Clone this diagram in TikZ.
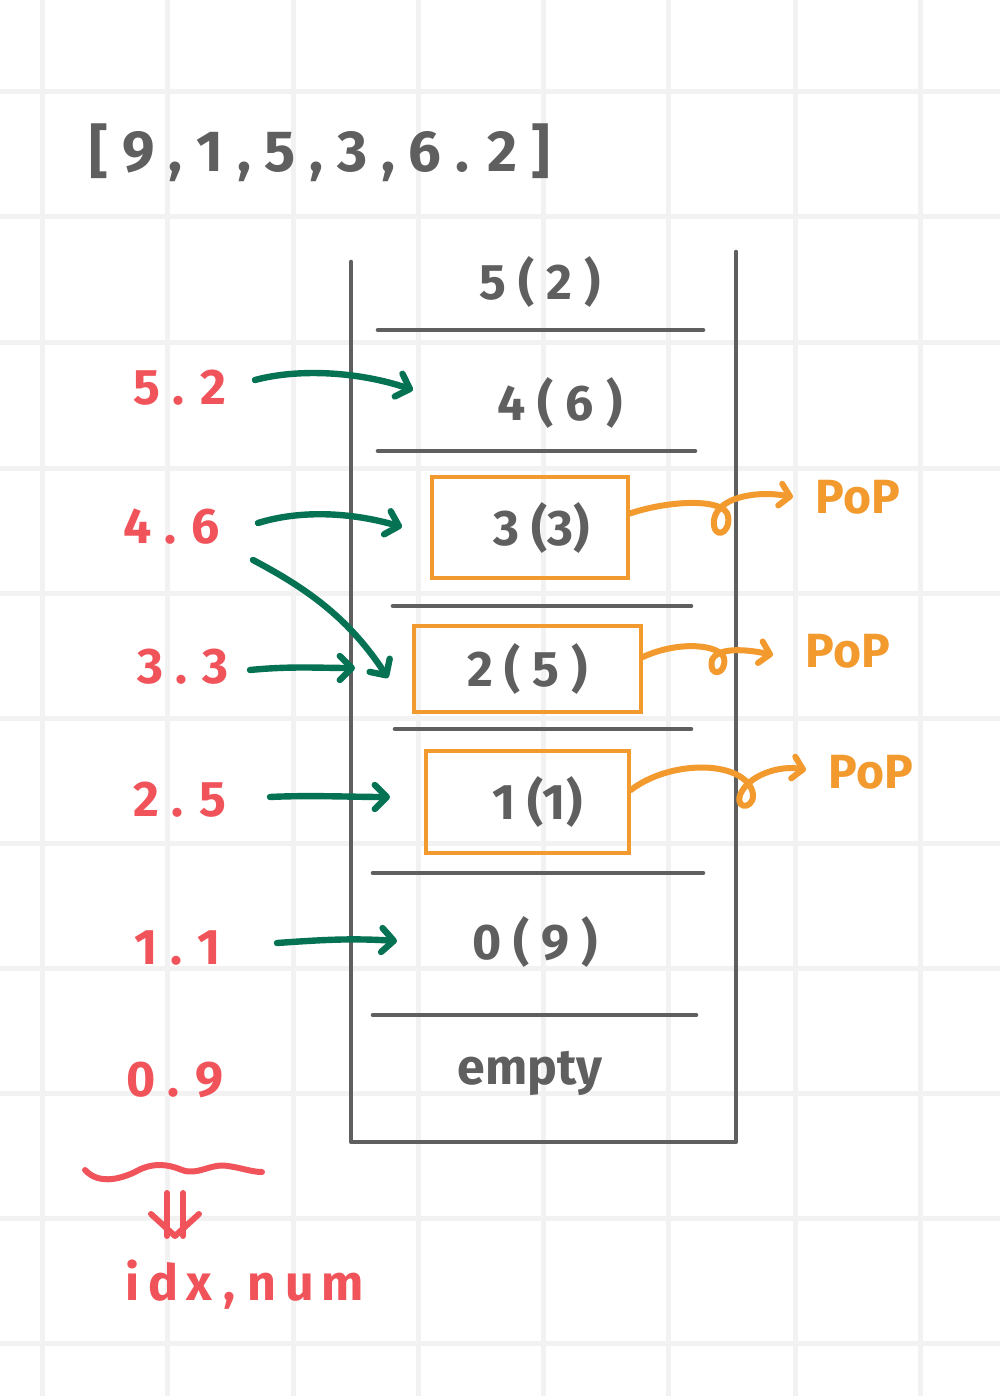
\documentclass[tikz,border=0pt]{standalone}
\usepackage{fontspec}
\setmainfont{Fira Sans}
\usetikzlibrary{arrows.meta}
\definecolor{ink}{HTML}{5F5F5F}
\definecolor{gridc}{HTML}{F2F2F2}
\definecolor{redc}{HTML}{F0545A}
\definecolor{grn}{HTML}{067254}
\definecolor{orc}{HTML}{F29A2E}
\tikzset{
  gridline/.style={draw=gridc, line width=2.5pt},
  wall/.style={draw=ink, line width=2.3pt, line cap=round, line join=round},
  divider/.style={draw=ink, line width=2.3pt, line cap=round},
  stacktxt/.style={text=ink, font=\fontsize{25}{28}\selectfont\bfseries, inner sep=0pt},
  toptxt/.style={text=ink, font=\fontsize{29}{32}\selectfont\bfseries, inner sep=0pt},
  redtxt/.style={text=redc, font=\fontsize{25}{28}\selectfont\bfseries, inner sep=0pt},
  poptxt/.style={text=orc, font=\fontsize{24}{28}\selectfont\bfseries, inner sep=0pt},
  popbox/.style={draw=orc, line width=1.8pt, text=ink, font=\fontsize{25}{28}\selectfont\bfseries, inner sep=0pt},
  garrow/.style={draw=grn, line width=3.2pt, line cap=round, -{Straight Barb[length=6pt,width=12pt,round]}},
  oarrow/.style={draw=orc, line width=3pt, line cap=round, line join=round, -{Straight Barb[length=5pt,width=11pt,round]}},
  rline/.style={draw=redc, line width=3pt, line cap=round, line join=round}
}
\begin{document}
\begin{tikzpicture}[x=0.5pt,y=-0.5pt]
\useasboundingbox (0,0) rectangle (1000,1396);
\fill[white] (0,0) rectangle (1000,1396);
% grid
\foreach \gx in {42,167,293,418,543,668,795,920} \draw[gridline] (\gx,0) -- (\gx,1396);
\foreach \gy in {92,217,342,468,593,718,843,968,1093,1218,1343} \draw[gridline] (0,\gy) -- (1000,\gy);

% top list
\node[toptxt] (list) at (320,153) {[ 9 , 1 , 5 , 3 , 6 . 2 ]};

% stack walls
\draw[wall] (351,262) -- (351,1142) -- (736,1142) -- (736,252);
\draw[divider] (378,330) -- (703,330);
\draw[divider] (378,451) -- (695,451);
\draw[divider] (393,606) -- (691,606);
\draw[divider] (395,729) -- (691,729);
\draw[divider] (373,873) -- (703,873);
\draw[divider] (373,1015) -- (696,1015);

% stack entries
\node[stacktxt] (r5) at (540,282) {5 ( 2 )};
\node[stacktxt] (r4) at (560,403) {4 ( 6 )};
\node[popbox, minimum width=98pt, minimum height=50.5pt] (b3) at (530,527.5) {\hspace{12pt}3 (3)};
\node[popbox, minimum width=113.5pt, minimum height=43pt] (b2) at (527.5,669) {2 ( 5 )};
\node[popbox, minimum width=101.5pt, minimum height=51pt] (b1) at (527.5,802) {\hspace{10pt}1 (1)};
\node[stacktxt] (r0) at (535,942) {0 ( 9 )};
\node[stacktxt] (re) at (530,1073) {empty};

% red labels
\node[redtxt] (l52) at (180,388) {5 . 2};
\node[redtxt] (l46) at (172,527) {4 . 6};
\node[redtxt] (l33) at (183,667) {3 . 3};
\node[redtxt] (l25) at (180,800) {2 . 5};
\node[redtxt] (l11) at (178,948) {1 . 1};
\node[redtxt] (l09) at (175,1080) {0 . 9};
\node[redtxt] (idx) at (245,1285) {i\,d\,x , n\,u\,m};

% arrow end coordinates
\coordinate (s52) at (255,380);
\coordinate (e52) at (413,390);
\coordinate (s46) at (258,523);
\coordinate (e46) at (402,527);
\coordinate (s46b) at (253,560);
\coordinate (e46b) at (388,678);
\coordinate (s33) at (250,670);
\coordinate (e33) at (355,668);
\coordinate (s25) at (270,797);
\coordinate (e25) at (390,797);
\coordinate (s11) at (277,943);
\coordinate (e11) at (397,941);

% green arrows
\draw[garrow] (s52) .. controls (300,368) and (360,372) .. (e52);
\draw[garrow] (s46) .. controls (300,510) and (350,512) .. (e46);
\draw[garrow] (s46b) .. controls (310,590) and (350,620) .. (e46b);
\draw[garrow] (s33) .. controls (290,666) and (320,668) .. (e33);
\draw[garrow] (s25) .. controls (310,795) and (350,797) .. (e25);
\draw[garrow] (s11) .. controls (320,940) and (350,938) .. (e11);

% pop labels
\node[poptxt] (p3) at (858,497) {PoP};
\node[poptxt] (p2) at (848,651) {PoP};
\node[poptxt] (p1) at (871,772) {PoP};
\coordinate (t3) at (793,497);
\coordinate (t2) at (773,655);
\coordinate (t1) at (806,770);

% orange loop arrows
\draw[oarrow] ([yshift=7pt]b3.east) .. controls (670,500) and (725,498) .. (728,516)
   .. controls (731,535) and (712,540) .. (714,520)
   .. controls (717,498) and (755,490) .. (t3);
\draw[oarrow] ([yshift=6pt]b2.east) .. controls (680,640) and (720,645) .. (724,658)
   .. controls (727,675) and (708,678) .. (712,660)
   .. controls (718,646) and (750,650) .. (t2);
\draw[oarrow] ([yshift=6pt]b1.east) .. controls (670,760) and (740,760) .. (752,790)
   .. controls (758,808) and (735,812) .. (740,795)
   .. controls (748,775) and (780,765) .. (t1);

% wavy underline and double arrow
\draw[rline] (85,1170) .. controls (98,1184) and (118,1180) .. (135,1172)
  .. controls (152,1162) and (168,1164) .. (182,1170)
  .. controls (198,1176) and (210,1163) .. (228,1166)
  .. controls (242,1168) and (252,1172) .. (262,1172);
\coordinate (dtop) at (175,1193);
\coordinate (dtip) at (175,1236);
\draw[rline] ([xshift=-4pt]dtop) -- ([xshift=-4pt]dtip);
\draw[rline] ([xshift=4pt]dtop) -- ([xshift=4pt]dtip);
\draw[rline] ([xshift=-12pt,yshift=11pt]dtip) -- (dtip) -- ([xshift=12pt,yshift=11pt]dtip);
\end{tikzpicture}
\end{document}
